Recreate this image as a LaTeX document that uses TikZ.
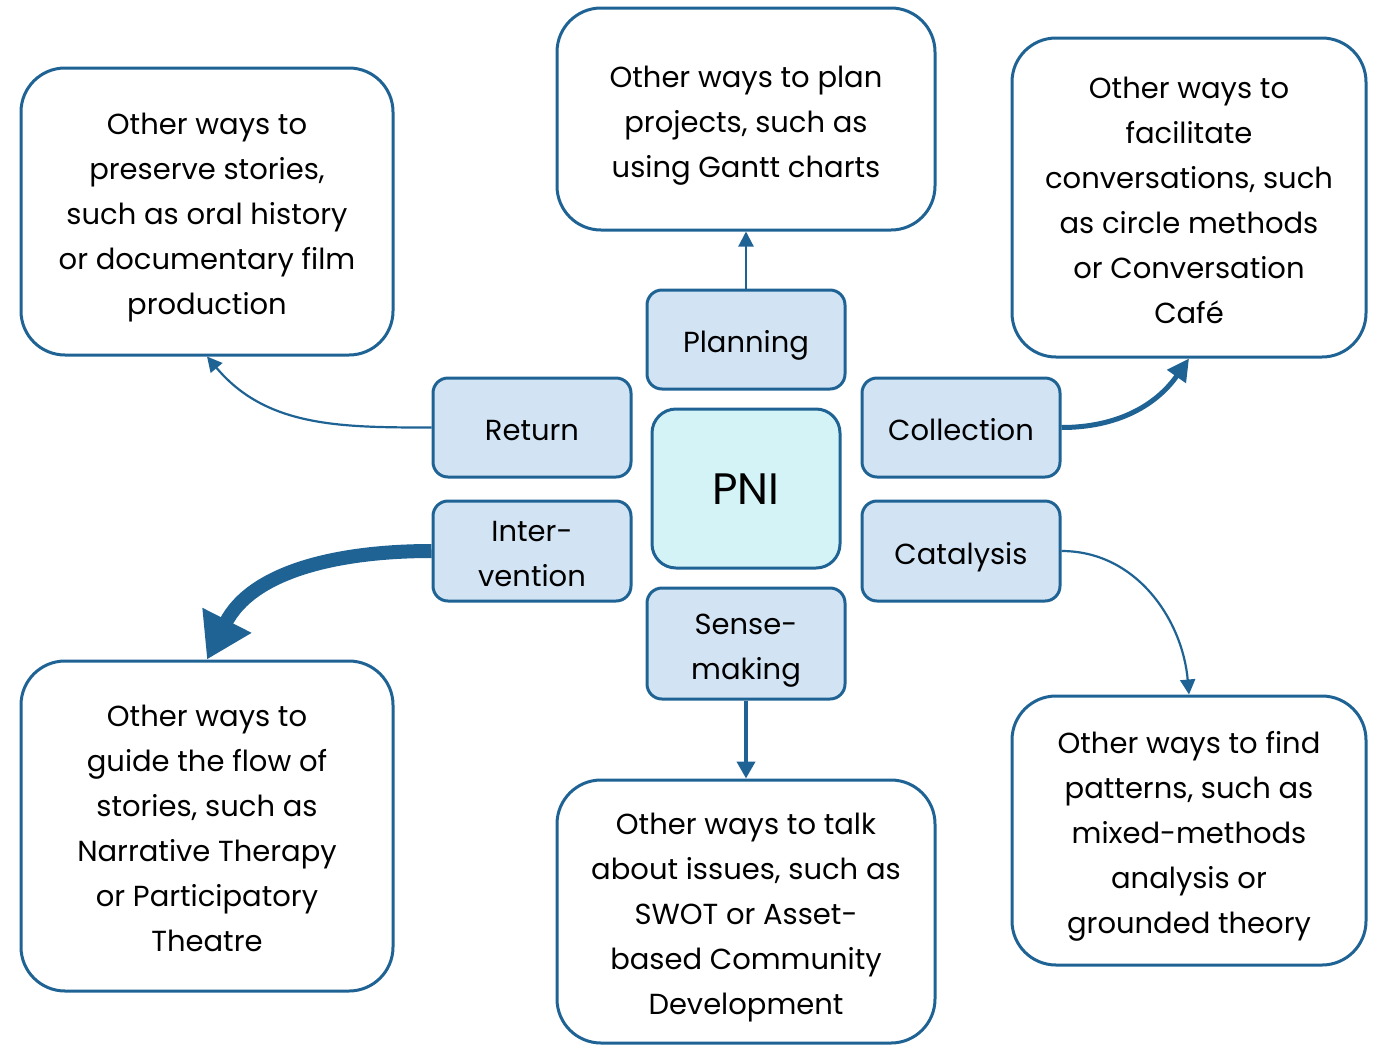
\documentclass[tikz,border=0pt]{standalone}
\usepackage{fontspec}
\setmainfont{Poppins}
\usetikzlibrary{arrows.meta}
\definecolor{edge}{RGB}{31,99,149}
\definecolor{stagefill}{RGB}{210,228,244}
\definecolor{corefill}{RGB}{212,243,247}
% centred stack of lines, each row a full 45pt line box, set 4pt low in its box
\newcommand{\lines}[1]{\raisebox{-4pt}[\height][\depth]{\begin{tabular}{@{}c@{}}#1\end{tabular}}}
\tikzset{
  txt/.style={inner sep=0pt, font=\fontsize{29}{45}\selectfont},
  bigbox/.style={txt, draw=edge, line width=3pt, fill=white, rounded corners=44pt},
  stagebox/.style={txt, draw=edge, line width=3pt, fill=stagefill, rounded corners=15pt,
    minimum width=198pt},
  corebox/.style={draw=edge, line width=3pt, fill=corefill, rounded corners=24pt,
    minimum width=188pt, minimum height=159pt, inner sep=0pt,
    font=\fontsize{44}{50}\selectfont, text height=42pt, text depth=10pt},
  link/.style={draw=edge, line width=2.2pt, -{Triangle[length=15pt,width=15pt]}},
}
\begin{document}
\begin{tikzpicture}[x=1pt,y=-1pt]
\useasboundingbox (0,0) rectangle (1374,1045);

% outer boxes
\node[bigbox, minimum width=378pt, minimum height=222pt] (plan) at (746,119)
  {\lines{Other ways to plan\\projects, such as\\using Gantt charts}};
\node[bigbox, minimum width=372pt, minimum height=287pt] (preserve) at (207,211.5)
  {\lines{Other ways to\\preserve stories,\\such as oral history\\or documentary film\\production}};
\node[bigbox, minimum width=354pt, minimum height=319pt] (facilitate) at (1189,197.5)
  {\lines{Other ways to\\facilitate\\conversations, such\\as circle methods\\or Conversation\\Café}};
\node[bigbox, minimum width=372pt, minimum height=330pt] (guide) at (207,826)
  {\lines{Other ways to\\guide the flow of\\stories, such as\\Narrative Therapy\\or Participatory\\Theatre}};
\node[bigbox, minimum width=378pt, minimum height=263pt] (talk) at (746,911.5)
  {\lines{Other ways to talk\\about issues, such as\\SWOT or Asset-\\based Community\\Development}};
\node[bigbox, minimum width=354pt, minimum height=269pt] (patterns) at (1189,830.5)
  {\lines{Other ways to find\\patterns, such as\\mixed-methods\\analysis or\\grounded theory}};

% stages
\node[stagebox, minimum height=99pt] (planning) at (746,339.5) {\lines{Planning}};
\node[stagebox, minimum height=99pt] (return) at (532,427.5) {\lines{Return}};
\node[stagebox, minimum height=99pt] (collection) at (961,427.5) {\lines{Collection}};
\node[stagebox, minimum height=100pt] (intervention) at (532,551) {\lines{Inter-\\vention}};
\node[stagebox, minimum height=100pt] (catalysis) at (961,551) {\lines{Catalysis}};
\node[stagebox, minimum height=111pt] (sense) at (746,643.5) {\lines{Sense-\\making}};
\node[corebox] (pni) at (746,488.5) {PNI};

% connectors
\draw[link] (planning.north) -- (plan.south);
\draw[link, line width=4pt, -{Triangle[length=17pt,width=18pt]}] (sense.south) -- (talk.north);
\draw[link] (return.west) to[out=180,in=-50] (preserve.south);
\draw[link] (catalysis.east) to[out=0,in=95] (patterns.north);
\draw[link, line width=5pt, -{Triangle[length=22pt,width=22pt]}]
  (collection.east) to[out=0,in=-125] (facilitate.south);
\draw[link, line width=14pt, -{Triangle[length=44pt,width=52pt]}]
  (intervention.west) to[out=180,in=63] (guide.north);
\end{tikzpicture}
\end{document}
